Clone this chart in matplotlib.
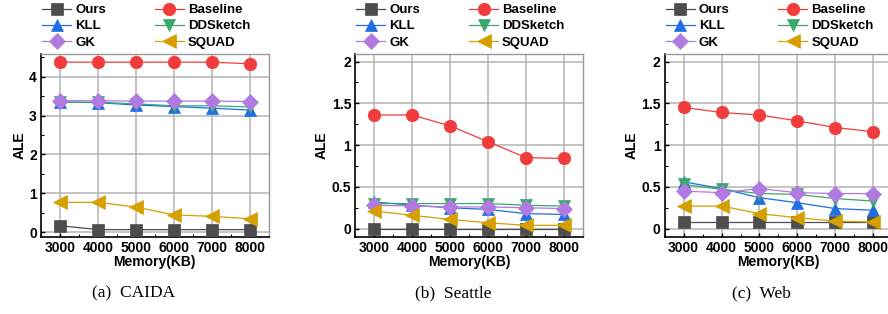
import matplotlib
matplotlib.use("Agg")
import matplotlib.pyplot as plt
from matplotlib.ticker import MultipleLocator, FixedLocator

memory = [3000, 4000, 5000, 6000, 7000, 8000]
methods = ["Ours", "Baseline", "KLL", "DDSketch", "GK", "SQUAD"]

caida = {
    "Ours":     [0.17, 0.07, 0.07, 0.07, 0.07, 0.07],
    "Baseline": [4.37, 4.37, 4.37, 4.37, 4.37, 4.33],
    "KLL":      [3.35, 3.33, 3.27, 3.23, 3.19, 3.14],
    "DDSketch": [3.34, 3.34, 3.30, 3.25, 3.25, 3.22],
    "GK":       [3.38, 3.38, 3.37, 3.37, 3.37, 3.36],
    "SQUAD":    [0.77, 0.77, 0.65, 0.45, 0.41, 0.35],
}
seattle = {
    "Ours":     [0.0, 0.0, 0.0, 0.0, 0.0, 0.0],
    "Baseline": [1.36, 1.36, 1.23, 1.04, 0.85, 0.84],
    "KLL":      [0.32, 0.28, 0.25, 0.23, 0.18, 0.17],
    "DDSketch": [0.30, 0.30, 0.30, 0.30, 0.28, 0.27],
    "GK":       [0.28, 0.27, 0.26, 0.26, 0.25, 0.24],
    "SQUAD":    [0.21, 0.16, 0.11, 0.07, 0.04, 0.04],
}
web = {
    "Ours":     [0.08, 0.08, 0.08, 0.08, 0.08, 0.08],
    "Baseline": [1.45, 1.39, 1.36, 1.29, 1.21, 1.16],
    "KLL":      [0.56, 0.48, 0.37, 0.31, 0.24, 0.22],
    "DDSketch": [0.53, 0.47, 0.42, 0.41, 0.36, 0.33],
    "GK":       [0.45, 0.43, 0.48, 0.43, 0.42, 0.42],
    "SQUAD":    [0.27, 0.27, 0.18, 0.13, 0.09, 0.08],
}
datasets = [caida, seattle, web]
captions = ["(a)  CAIDA", "(b)  Seattle", "(c)  Web"]
yticks_sets = [[0, 1, 2, 3, 4], [0, 0.5, 1, 1.5, 2], [0, 0.5, 1, 1.5, 2]]
ytick_labels = [["0", "1", "2", "3", "4"], ["0", "0.5", "1", "1.5", "2"], ["0", "0.5", "1", "1.5", "2"]]
ylims = [(-0.12, 4.58), (-0.1, 2.09), (-0.1, 2.09)]

colors = {"Ours": "#4d4d4d", "Baseline": "#f03c3c", "KLL": "#1e6fe0",
          "DDSketch": "#3aa86a", "GK": "#b07ae0", "SQUAD": "#d4a000"}
markers = {"Ours": "s", "Baseline": "o", "KLL": "^", "DDSketch": "v",
           "GK": "D", "SQUAD": "<"}
msizes = {"Ours": 8.5, "Baseline": 9, "KLL": 9, "DDSketch": 9, "GK": 8, "SQUAD": 9.5}

plt.rcParams["font.family"] = ["Liberation Sans", "DejaVu Sans"]
W, H = 888, 314
fig = plt.figure(figsize=(W / 100, H / 100), dpi=100)

lefts = [41, 355.3, 664.7]
ax_w = 227.5
ax_top, ax_bot = 54, 237
cap_x = [133.5, 453, 761]
fs = 10

for i, data in enumerate(datasets):
    ax = fig.add_axes([lefts[i] / W, 1 - ax_bot / H, ax_w / W, (ax_bot - ax_top) / H])
    handles = {}
    for m in methods:
        ln, = ax.plot(memory, data[m], color=colors[m], marker=markers[m],
                      markersize=msizes[m], linewidth=0.9, markeredgewidth=0.5,
                      markeredgecolor=colors[m], label=m, zorder=3)
        handles[m] = ln
    ax.set_xlim(2500, 8500)
    ax.set_ylim(*ylims[i])
    ax.xaxis.set_major_locator(FixedLocator(memory))
    ax.xaxis.set_minor_locator(MultipleLocator(500))
    ax.set_yticks(yticks_sets[i])
    ax.set_yticklabels(ytick_labels[i])
    ax.yaxis.set_minor_locator(MultipleLocator(yticks_sets[i][1] / 2))
    ax.grid(True, which="major", color="#b4b4b4", linewidth=1.1, zorder=0)
    ax.set_axisbelow(True)
    ax.tick_params(which="both", direction="in", labelsize=fs, pad=3)
    ax.tick_params(which="major", length=3, width=1)
    ax.tick_params(which="minor", length=2, width=0.8)
    for lab in ax.get_xticklabels() + ax.get_yticklabels():
        lab.set_fontweight("bold")
    for s in ["left", "bottom"]:
        ax.spines[s].set_linewidth(1.2)
        ax.spines[s].set_color("black")
    for s in ["top", "right"]:
        ax.spines[s].set_linewidth(1.0)
        ax.spines[s].set_color("#9a9a9a")
    ax.set_xlabel("Memory(KB)", fontsize=fs, fontweight="bold", labelpad=0)
    ax.set_ylabel("ALE", fontsize=fs, fontweight="bold", labelpad=2)
    order = ["Ours", "KLL", "GK", "Baseline", "DDSketch", "SQUAD"]
    ax.legend([handles[m] for m in order], order, ncol=2, frameon=False,
              loc="lower left", bbox_to_anchor=(0.005, 1.03), borderaxespad=0,
              borderpad=0, handlelength=2.2, handletextpad=0.3,
              columnspacing=3.7, labelspacing=0.3,
              prop={"weight": "bold", "size": 9.5})
    fig.text(cap_x[i] / W, 1 - 293 / H, captions[i], ha="center", va="center",
             fontsize=12.5, family=["Liberation Serif", "DejaVu Serif"])

fig.savefig("out.png", dpi=100)
